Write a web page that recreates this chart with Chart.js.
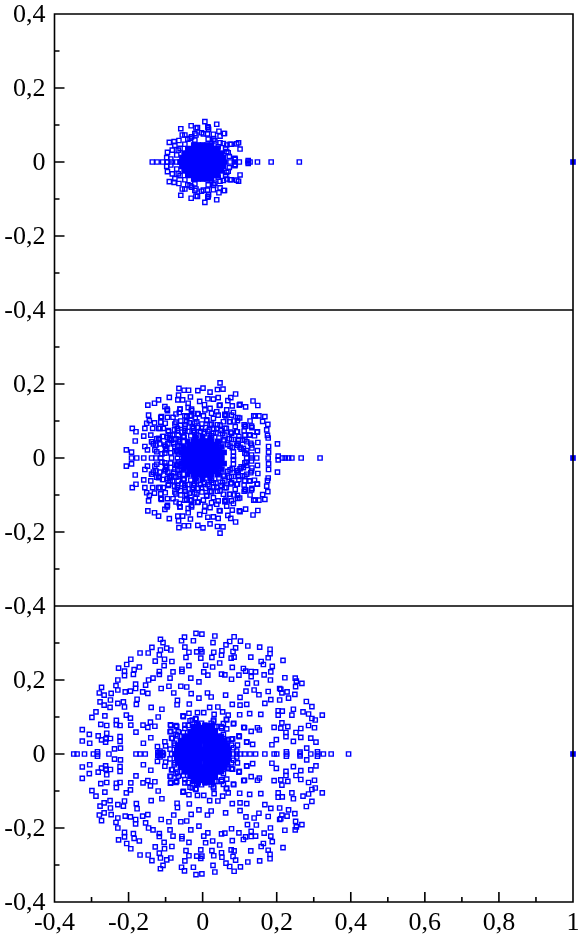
<!DOCTYPE html>
<html>
<head>
<meta charset="utf-8">
<title>Eigenvalue spectra</title>
<script src="https://cdn.jsdelivr.net/npm/chart.js@4/dist/chart.umd.min.js"></script>
<style>
  html, body { margin: 0; padding: 0; background: #fff; }
  canvas { display: block; }
</style>
</head>
<body>
<canvas id="spectra" width="581" height="938"></canvas>
<script>
// --- Data (upper half only, the spectra are mirrored in y = 0) ---
const xLimits = [-0.4, 1];
const yLimits = [-0.4, 0.4];
const outlier = [[1, 0]];

// top panel
const axisTop = [-.136,-.123,-.108,-.095,-.084,-.070,-.061,.074,.088,.099,.123,.128,.148,.185,.261];
const cloudTop = [[.006,.109],[.038,.102],[-.031,.098],[-.018,.092],[-.059,.090],[.014,.095],[.016,.088],[.044,.083],[.057,.077],[-.048,.073],[-.055,.073],[-.018,.073],[-.003,.079],[.029,.075],[.047,.070],[.013,.076],[-.090,.053],[-.077,.055],[-.064,.058],[.097,.052],[.077,.048],[.092,.049],[.101,.035],[-.075,.045],[-.048,.048],[-.095,.026],[-.082,.032],[.047,.052],[.065,.046],[-.097,.012],[-.070,.019],[.069,.025],[.088,.007],[.123,.004],[-.066,.032],[.072,.015],[.062,.036],[-.030,.068],[.030,.062],[-.040,.062],[-.086,.008],
  [-.014,.093],[.015,.093],[-.021,.077],[.002,.076],[.059,.077],[-.021,.059],[.015,.062],[.042,.041],[.074,.048],[-.061,.037],[.056,.050],[.033,.057],[-.034,.064],[.065,.028],[.087,.010]];
const coreTop = [[-.060,0],[-.048,0],[-.036,0],[-.024,0],[-.012,0],[0,0],[.012,0],[.024,0],[.036,0],[.048,0],[.060,0],
  [-.056,.012],[-.046,.012],[-.034,.012],[-.022,.012],[-.010,.012],[0,.012],[.010,.012],[.022,.012],[.034,.012],[.046,.012],[.056,.012],
  [-.050,.024],[-.041,.024],[-.029,.024],[-.017,.024],[-.005,.024],[.005,.024],[.017,.024],[.029,.024],[.041,.024],[.050,.024],
  [-.040,.036],[-.034,.036],[-.022,.036],[-.010,.036],[0,.036],[.010,.036],[.022,.036],[.034,.036],[.040,.036],
  [-.024,.046],[-.012,.046],[0,.046],[.012,.046],[.024,.046]];

// middle panel
const axisMid = [-.192,-.178,-.159,-.138,-.126,-.113,-.084,-.068,.119,.132,.146,.177,.216,.223,.232,.241,.266,.317];
const cloudMid = [[.047,.203],[-.064,.188],[-.050,.183],[-.038,.183],[-.013,.182],[.001,.189],[.020,.178],[.040,.185],[.055,.186],[.089,.173],[.076,.163],[-.065,.170],[-.033,.165],[-.067,.157],[-.054,.157],[-.090,.164],[-.119,.157],[-.130,.148],[-.148,.143],[-.008,.153],[.014,.160],[.005,.144],[.029,.159],[.042,.163],[.068,.155],[.045,.142],[.080,.141],[.101,.145],[.116,.138],[.136,.154],[.149,.142],[-.102,.139],[-.096,.132],[-.061,.132],[-.039,.148],[-.039,.136],[.020,.134],[-.072,.119],[-.063,.123],[-.146,.116],[-.111,.112],[-.095,.110],[-.043,.112],[-.030,.114],[-.014,.120],[.038,.125],[.060,.116],[.083,.123],[.095,.109],[.138,.114],[.152,.114],[.168,.112],[-.144,.101],[-.151,.094],[-.113,.097],[-.101,.094],[-.072,.097],[-.059,.100],[-.016,.098],[.011,.103],[.029,.107],[.056,.098],[.072,.098],[.085,.100],[.162,.099],[.176,.091],[-.156,.080],[-.190,.080],[-.180,.071],[-.135,.080],[-.119,.080],[-.106,.080],[-.092,.071],[-.081,.062],[-.048,.080],[-.025,.080],[-.068,.080],[.116,.086],[.133,.082],[.092,.071],[.112,.073],[.126,.062],[.147,.070],[.173,.076],[.175,.061],[.177,.054],[-.159,.059],[-.106,.058],[-.119,.053],[-.090,.050],[-.137,.044],[-.133,.038],[-.182,.046],[.149,.042],[.202,.038],[.119,.044],[.096,.040],[-.156,.031],[-.149,.022],[-.129,.022],[-.100,.031],[-.086,.014],[-.067,.032],[-.067,.017],[-.110,.011],[.178,.031],[.178,.016],[-.206,.022],[-.192,.016],[.133,.027],[.148,.020],[.119,.020],[.101,.029],[.204,.005],
  [-.095,.055],[-.085,.048],[-.078,.038],[-.072,.052],[-.066,.062],[-.062,.045],[-.058,.030],[-.056,.070],[-.050,.056],[-.047,.090],[-.040,.072],[-.036,.095],[-.032,.060],[-.028,.085],[-.022,.070],[-.016,.062],[-.012,.082],[-.006,.072],[-.002,.092],[.004,.066],[.008,.082],[.014,.072],[.020,.090],[.024,.060],[.030,.078],[.036,.068],[.040,.090],[.044,.054],[.050,.074],[.056,.046],[.060,.062],[.064,.080],[.068,.036],[.072,.052],[.076,.070],[.080,.028],[.084,.050],[.088,.085],[.092,.034],[.098,.058],[.104,.024],[.108,.048],[.112,.090],[.118,.012],[-.100,.022],[-.094,.038],[-.088,.062],[-.076,.076],[-.070,.020],[-.064,.010],[-.060,.088],[-.108,.058],[-.116,.038],[-.124,.052],[.128,.100],[.100,.108],[.060,.118],[-.030,.128],[-.020,.108],[-.080,.110],[.130,.040],[.140,.060],[-.140,.062],[-.130,.095],
  [-.095,.128],[-.113,.110],[-.061,.132],[-.030,.132],[-.048,.114],[-.034,.114],[-.012,.119],[.006,.130],[.024,.121],[.002,.114],[.047,.143],[.065,.130],[.078,.116],[.063,.114],[.042,.116],[.099,.143],[.142,.114],[-.075,.092],[-.043,.098],[-.021,.094],[.011,.101],[.024,.092],[.047,.089],[.074,.098],[.094,.101],[-.115,.080],[-.093,.074],[-.068,.074],[-.048,.074],[-.025,.074],[-.003,.080],[.018,.076],[.038,.080],[.060,.080],[.114,.085],[.132,.086],[.148,.071],[.114,.062],[.094,.071],[.078,.067],[.054,.067],[.029,.067],[-.088,.053],[-.117,.050],[-.138,.044],[-.066,.049],[-.052,.059],[.078,.050],[.097,.050],[.114,.049],[.128,.062],[.058,.049],[.132,.035],[.094,.035],[.110,.026],[.074,.032],[-.097,.026],[-.075,.031],[-.102,.035],[-.126,.035],[-.124,.017],[-.075,.017],[-.102,.013],[-.061,.022],[.083,.017],[.114,.013],[.132,.008],[.083,.004],[-.052,.044],[.042,.040]];
const coreMid = [[-.052,0],[-.040,0],[-.028,0],[-.016,0],[-.004,0],[.004,0],[.016,0],[.028,0],[.040,0],[.052,0],
  [-.050,.012],[-.038,.012],[-.026,.012],[-.014,.012],[-.002,.012],[.002,.012],[.014,.012],[.026,.012],[.038,.012],[.050,.012],
  [-.046,.024],[-.034,.024],[-.022,.024],[-.010,.024],[0,.024],[.010,.024],[.022,.024],[.034,.024],[.046,.024],
  [-.037,.036],[-.025,.036],[-.013,.036],[-.001,.036],[.001,.036],[.013,.036],[.025,.036],[.037,.036],
  [-.024,.046],[-.012,.046],[0,.046],[.012,.046],[.024,.046],
  [-.058,.015],[.058,.015],[-.052,.030],[.052,.030],[-.040,.045],[.040,.045],[-.020,.056],[0,.058],[.020,.056]];

// bottom panel
const axisLow = [-.348,-.339,-.319,-.295,-.284,-.253,-.180,-.169,-.155,-.120,-.114,-.106,-.084,-.075,.083,.092,.101,.114,.128,.143,.168,.193,.200,.227,.263,.292,.311,.326,.347,.394];
const cloudLow = [[-.018,.326],[-.002,.324],[-.049,.316],[.033,.319],[.085,.317],[-.114,.310],[-.057,.306],[-.025,.306],[-.107,.301],[.028,.301],[.073,.304],[.102,.305],[.063,.295],[-.137,.288],[-.048,.289],[.089,.287],[.122,.292],[.154,.289],[-.097,.286],[-.086,.281],[-.114,.281],[.182,.283],[-.169,.273],[-.147,.273],[-.117,.268],[-.037,.275],[-.016,.276],[-.005,.282],[-.002,.276],[.030,.275],[.052,.279],[.082,.277],[.182,.271],[-.045,.261],[-.005,.259],[.025,.261],[.051,.267],[.077,.259],[.085,.262],[.130,.262],[.177,.260],[.217,.253],[-.194,.256],[-.128,.251],[-.103,.256],[-.083,.250],[.158,.250],[-.205,.242],[.046,.246],[.164,.242],[-.037,.239],[.008,.240],[.027,.235],[-.104,.239],[-.171,.235],[-.227,.232],[.080,.234],[.188,.237],[.110,.231],[-.211,.224],[-.056,.229],[-.056,.223],[.003,.222],[-.080,.222],[-.185,.228],[-.117,.223],[-.117,.215],[-.187,.215],[-.211,.212],[.014,.213],[.051,.216],[.060,.214],[.098,.213],[.116,.224],[.131,.223],[.143,.222],[.166,.214],[.184,.222],[.222,.206],[.250,.205],[-.088,.205],[-.032,.205],[.078,.202],[.131,.209],[.183,.200],[-.134,.205],[-.146,.200],[-.229,.200],[-.010,.195],[.253,.197],[.268,.191],[.121,.191],[.145,.192],[-.181,.189],[-.234,.185],[-.154,.186],[-.273,.180],[.251,.182],[-.112,.177],[-.091,.183],[-.059,.183],[-.043,.181],[.208,.177],[.211,.175],[-.181,.177],[-.229,.173],[-.279,.165],[-.266,.159],[-.247,.164],[-.209,.168],[-.195,.170],[-.162,.168],[-.148,.164],[-.078,.165],[-.031,.163],[.013,.165],[.062,.159],[.139,.173],[.117,.170],[.177,.169],[.228,.168],[.214,.165],[.152,.160],[.249,.161],[.023,.154],[.101,.153],[-.010,.151],[.232,.151],[-.177,.148],[-.249,.146],[-.277,.141],[-.214,.141],[-.229,.137],[-.068,.145],[-.069,.133],[-.036,.135],[.080,.134],[.101,.132],[.119,.134],[.184,.147],[.168,.137],[.208,.146],[.280,.142],[.295,.128],[-.266,.132],[-.250,.126],[-.211,.127],[-.179,.134],[-.139,.126],[-.110,.121],[.019,.126],[.041,.127],[-.288,.114],[.245,.121],[.215,.116],[.204,.117],[.271,.114],[.054,.114],[-.037,.110],[-.014,.112],[.003,.112],[.031,.107],[.069,.105],[.100,.106],[.127,.109],[.157,.107],[.204,.105],[.241,.105],[.286,.108],[.323,.105],[-.299,.099],[-.264,.103],[-.206,.105],[-.195,.097],[-.120,.100],[-.053,.103],[.295,.096],[.304,.092],[-.028,.092],[-.018,.094],[.030,.092],[.064,.094],[-.233,.091],[-.141,.086],[-.275,.080],[-.259,.077],[-.233,.079],[-.223,.077],[-.194,.078],[-.161,.078],[-.148,.072],[-.129,.075],[-.087,.079],[-.072,.077],[-.048,.069],[.023,.083],[.018,.074],[.056,.082],[.051,.070],[.084,.083],[.214,.084],[.286,.077],[.302,.071],[.148,.071],[.193,.072],[.211,.070],[.230,.074],[.265,.069],[-.325,.066],[-.180,.059],[-.086,.061],[.111,.072],[.131,.061],[.153,.065],[.252,.058],[-.306,.053],[-.259,.056],[-.282,.049],[-.223,.047],[-.140,.044],[-.084,.043],[-.068,.049],[.098,.049],[.225,.058],[.225,.047],[.265,.045],[.292,.043],[-.261,.041],[-.273,.038],[-.249,.042],[-.325,.035],[-.305,.029],[-.262,.032],[-.223,.034],[-.102,.033],[-.160,.029],[.066,.040],[.119,.033],[.199,.039],[.245,.034],[.306,.032],[.135,.026],[.187,.025],[-.238,.014],[-.222,.016],[-.122,.020],[-.100,.022],[.281,.016],[-.284,.006],[.226,.006],[.263,.005],[.310,.006],[-.115,.008],[-.108,.004],[-.121,.004],[-.072,.053],[-.052,.058],[.056,.053],[.078,.040],[-.077,.029],[.083,.017],[-.088,.013],[.092,.008],[-.039,.077],[-.016,.080],[-.003,.083],[.038,.074],
  [-.086,.077],[-.070,.074],[-.088,.060],[-.066,.060],[-.082,.042],[-.075,.024],[-.052,.101],[-.034,.090],[-.019,.096],[-.025,.069],[-.048,.078],[.029,.089],[.065,.092],[.083,.081],[.065,.068],[.051,.074],[.033,.074],[.113,.071],[.069,.038],[.099,.047],[.081,.041],[.094,.024],[.119,.032],[.078,.024]];
const coreLow = [[-.072,0],[-.060,0],[-.048,0],[-.036,0],[-.024,0],[-.012,0],[0,0],[.012,0],[.024,0],[.036,0],[.048,0],[.060,0],[.072,0],
  [-.070,.012],[-.058,.012],[-.046,.012],[-.034,.012],[-.022,.012],[-.010,.012],[0,.012],[.010,.012],[.022,.012],[.034,.012],[.046,.012],[.058,.012],[.070,.012],
  [-.067,.024],[-.055,.024],[-.043,.024],[-.031,.024],[-.019,.024],[-.007,.024],[.007,.024],[.019,.024],[.031,.024],[.043,.024],[.055,.024],[.067,.024],
  [-.060,.036],[-.050,.036],[-.038,.036],[-.026,.036],[-.014,.036],[-.002,.036],[.002,.036],[.014,.036],[.026,.036],[.038,.036],[.050,.036],[.060,.036],
  [-.050,.048],[-.041,.048],[-.029,.048],[-.017,.048],[-.005,.048],[.005,.048],[.017,.048],[.029,.048],[.041,.048],[.050,.048],
  [-.034,.060],[-.028,.060],[-.016,.060],[-.004,.060],[.004,.060],[.016,.060],[.028,.060],[.034,.060],
  [-.024,.068],[-.012,.068],[0,.068],[.012,.068],[.024,.068],
  [-.012,.078],[.006,.078],[.018,.076],[-.024,.074]];

const BLUE = '#0000ff';
const LABEL_FONT = { family: '"Liberation Serif", "Times New Roman", serif', size: 26 };

// --- Helpers ---
const toPoints = (pairs) => pairs.flatMap(([x, y]) => y === 0
    ? [{ x, y }]
    : [{ x, y }, { x, y: -y }]);

function hollowSet(pairs, axis, yAxisID) {
    return {
        data: toPoints(pairs.concat(axis.map(x => [x, 0]))),
        yAxisID,
        showLine: false,
        clip: false,
        pointStyle: 'rect',
        pointRadius: 3,
        pointBorderWidth: 1.4,
        pointBorderColor: BLUE,
        pointBackgroundColor: 'rgba(0,0,0,0)'
    };
}

function solidSet(pairs, yAxisID) {
    return {
        data: toPoints(pairs),
        yAxisID,
        showLine: false,
        clip: false,
        pointStyle: 'rect',
        pointRadius: 4,
        pointBorderWidth: 0,
        pointBackgroundColor: BLUE
    };
}

function tickLabel(value) {
    const tenths = Math.round(value * 10);
    if (tenths % 2 !== 0) return '';
    if (tenths === 0) return '0';
    if (tenths === 10) return '1';
    return (tenths < 0 ? '-' : '') + '0,' + Math.abs(tenths);
}

function yScale(showTop) {
    return {
        type: 'linear',
        position: 'left',
        stack: 'panels',
        stackWeight: 1,
        min: yLimits[0],
        max: yLimits[1],
        grid: { display: false, drawTicks: false },
        border: { display: false },
        ticks: {
            stepSize: 0.1,
            autoSkip: false,
            padding: 9,
            labelOffset: 1,
            color: '#000',
            font: LABEL_FONT,
            callback: (value) => (!showTop && Math.round(value * 10) === 4) ? '' : tickLabel(value)
        },
        afterFit: (scale) => {
            scale.width = 54.5;
            scale.paddingTop = 0;
            scale.paddingBottom = 0;
        }
    };
}

// --- Frames and inward ticks, drawn over the points from the scales ---
const framePlugin = {
    id: 'frames',
    afterDatasetsDraw(chart) {
        const { ctx, scales } = chart;
        const xs = scales.x;
        ctx.save();
        ctx.strokeStyle = '#000';
        ctx.lineWidth = 1.6;
        ctx.beginPath();
        ['yLow', 'yMid', 'yTop'].forEach(id => {
            const ys = scales[id];
            ctx.rect(xs.left, ys.top, xs.right - xs.left, ys.bottom - ys.top);
            ys.ticks.forEach(t => {
                const py = ys.getPixelForValue(t.value);
                const major = Math.round(t.value * 10) % 2 === 0;
                ctx.moveTo(xs.left, py);
                ctx.lineTo(xs.left + (major ? 10 : 5), py);
            });
        });
        const bottom = scales.yLow.bottom;
        xs.ticks.forEach(t => {
            const px = xs.getPixelForValue(t.value);
            const major = Math.round(t.value * 10) % 2 === 0;
            ctx.moveTo(px, bottom);
            ctx.lineTo(px, bottom - (major ? 10 : 5));
        });
        ctx.stroke();
        ctx.restore();
    }
};

// --- Chart ---
new Chart(document.getElementById('spectra').getContext('2d'), {
    type: 'scatter',
    data: {
        datasets: [
            hollowSet(cloudTop, axisTop, 'yTop'),
            solidSet(coreTop.concat(outlier), 'yTop'),
            hollowSet(cloudMid, axisMid, 'yMid'),
            solidSet(coreMid.concat(outlier), 'yMid'),
            hollowSet(cloudLow, axisLow, 'yLow'),
            solidSet(coreLow.concat(outlier), 'yLow')
        ]
    },
    options: {
        responsive: false,
        animation: false,
        layout: { padding: { top: 14, right: 8, bottom: 0, left: 0 } },
        plugins: {
            legend: { display: false },
            tooltip: { enabled: false }
        },
        scales: {
            x: {
                type: 'linear',
                position: 'bottom',
                min: xLimits[0],
                max: xLimits[1],
                grid: { display: false, drawTicks: false },
                border: { display: false },
                ticks: {
                    stepSize: 0.1,
                    autoSkip: false,
                    maxRotation: 0,
                    padding: 6,
                    color: '#000',
                    font: LABEL_FONT,
                    callback: tickLabel
                },
                afterFit: (scale) => {
                    scale.height = 36;
                    scale.paddingLeft = 0;
                    scale.paddingRight = 0;
                }
            },
            yLow: yScale(false),
            yMid: yScale(false),
            yTop: yScale(true)
        }
    },
    plugins: [framePlugin]
});
</script>
</body>
</html>
